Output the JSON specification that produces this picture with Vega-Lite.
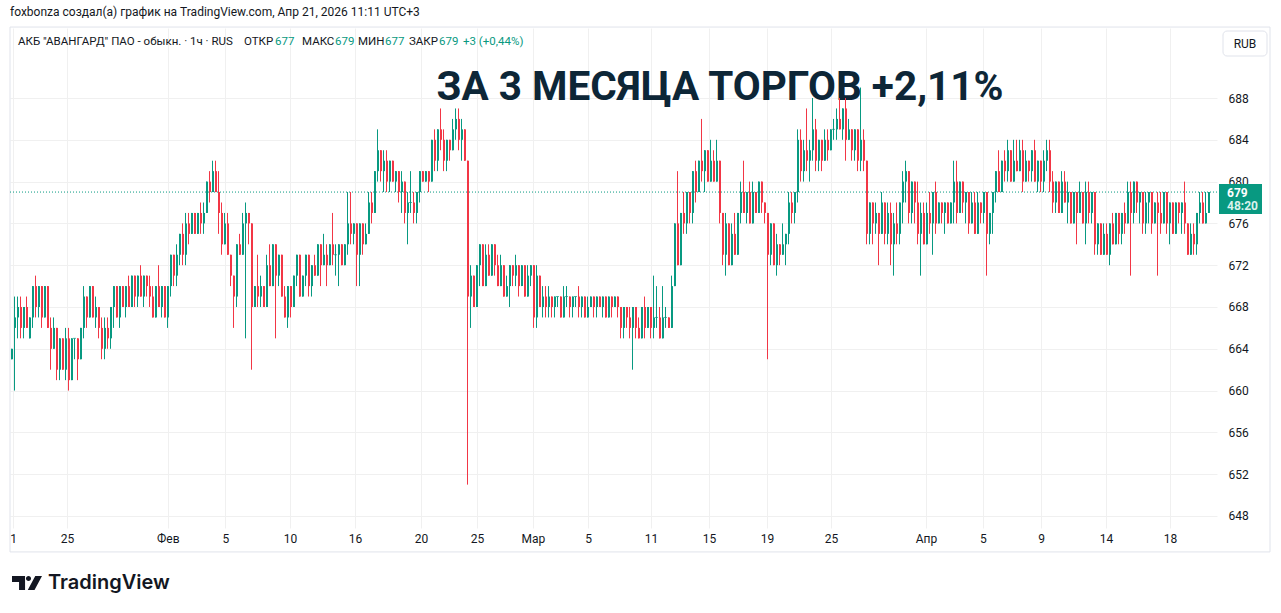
{
"$schema": "https://vega.github.io/schema/vega-lite/v6.json",
"width": 1207, "height": 500,
"autosize": {"type": "none"},
"padding": {"left": 10, "top": 28, "right": 64, "bottom": 85},
"background": "white",
"config": {"view": {"stroke": null}, "font": "Roboto", "text": {"font": "Roboto"}},
"datasets": {"candles": [
{"i":0,"o":663,"h":664,"l":663,"c":664},{"i":1,"o":666,"h":669,"l":660,"c":667},{"i":2,"o":667,"h":669,"l":665,"c":668},{"i":3,"o":668,"h":669,"l":665,"c":666},{"i":4,"o":666,"h":668,"l":665,"c":668},{"i":5,"o":668,"h":669,"l":666,"c":666},{"i":6,"o":665,"h":667,"l":665,"c":667},{"i":7,"o":667,"h":670,"l":666,"c":670},{"i":8,"o":670,"h":671,"l":667,"c":668},{"i":9,"o":668,"h":670,"l":667,"c":670},
{"i":10,"o":670,"h":670,"l":666,"c":667},{"i":11,"o":667,"h":670,"l":667,"c":670},{"i":12,"o":670,"h":670,"l":666,"c":666},{"i":13,"o":666,"h":667,"l":662,"c":664},{"i":14,"o":664,"h":667,"l":664,"c":666},{"i":15,"o":666,"h":666,"l":661,"c":662},{"i":16,"o":662,"h":665,"l":661,"c":665},{"i":17,"o":665,"h":665,"l":662,"c":662},{"i":18,"o":662,"h":666,"l":661,"c":665},{"i":19,"o":665,"h":666,"l":660,"c":661},
{"i":20,"o":661,"h":665,"l":661,"c":665},{"i":21,"o":665,"h":665,"l":663,"c":665},{"i":22,"o":665,"h":665,"l":661,"c":663},{"i":23,"o":663,"h":666,"l":663,"c":666},{"i":24,"o":666,"h":670,"l":665,"c":669},{"i":25,"o":669,"h":669,"l":666,"c":667},{"i":26,"o":667,"h":670,"l":667,"c":670},{"i":27,"o":670,"h":670,"l":667,"c":667},{"i":28,"o":667,"h":669,"l":666,"c":668},{"i":29,"o":668,"h":668,"l":665,"c":666},
{"i":30,"o":666,"h":667,"l":663,"c":664},{"i":31,"o":664,"h":667,"l":663,"c":666},{"i":32,"o":666,"h":667,"l":664,"c":665},{"i":33,"o":665,"h":668,"l":664,"c":668},{"i":34,"o":668,"h":670,"l":666,"c":670},{"i":35,"o":670,"h":670,"l":667,"c":667},{"i":36,"o":667,"h":670,"l":666,"c":670},{"i":37,"o":670,"h":670,"l":668,"c":668},{"i":38,"o":668,"h":670,"l":667,"c":670},{"i":39,"o":670,"h":671,"l":668,"c":668},
{"i":40,"o":668,"h":671,"l":668,"c":671},{"i":41,"o":671,"h":671,"l":668,"c":669},{"i":42,"o":669,"h":671,"l":668,"c":671},{"i":43,"o":671,"h":672,"l":669,"c":669},{"i":44,"o":669,"h":671,"l":668,"c":671},{"i":45,"o":671,"h":671,"l":669,"c":670},{"i":46,"o":670,"h":671,"l":668,"c":669},{"i":47,"o":669,"h":670,"l":667,"c":667},{"i":48,"o":667,"h":670,"l":667,"c":670},{"i":49,"o":670,"h":672,"l":668,"c":668},
{"i":50,"o":668,"h":670,"l":667,"c":670},{"i":51,"o":670,"h":670,"l":667,"c":667},{"i":52,"o":667,"h":670,"l":666,"c":670},{"i":53,"o":670,"h":673,"l":669,"c":673},{"i":54,"o":673,"h":673,"l":670,"c":671},{"i":55,"o":671,"h":674,"l":670,"c":673},{"i":56,"o":673,"h":675,"l":672,"c":675},{"i":57,"o":675,"h":676,"l":672,"c":673},{"i":58,"o":673,"h":677,"l":672,"c":676},{"i":59,"o":676,"h":677,"l":674,"c":675},
{"i":60,"o":675,"h":677,"l":675,"c":677},{"i":61,"o":677,"h":677,"l":675,"c":675},{"i":62,"o":675,"h":677,"l":675,"c":677},{"i":63,"o":677,"h":678,"l":675,"c":676},{"i":64,"o":676,"h":678,"l":675,"c":677},{"i":65,"o":677,"h":680,"l":677,"c":680},{"i":66,"o":680,"h":681,"l":678,"c":679},{"i":67,"o":679,"h":682,"l":679,"c":681},{"i":68,"o":681,"h":682,"l":679,"c":679},{"i":69,"o":679,"h":681,"l":675,"c":677},
{"i":70,"o":677,"h":678,"l":673,"c":674},{"i":71,"o":674,"h":677,"l":674,"c":676},{"i":72,"o":676,"h":677,"l":673,"c":673},{"i":73,"o":673,"h":673,"l":670,"c":671},{"i":74,"o":671,"h":671,"l":666,"c":669},{"i":75,"o":669,"h":674,"l":668,"c":674},{"i":76,"o":674,"h":675,"l":673,"c":673},{"i":77,"o":673,"h":677,"l":673,"c":676},{"i":78,"o":676,"h":678,"l":665,"c":677},{"i":79,"o":677,"h":677,"l":674,"c":676},
{"i":80,"o":676,"h":676,"l":662,"c":668},{"i":81,"o":668,"h":670,"l":668,"c":670},{"i":82,"o":670,"h":673,"l":668,"c":669},{"i":83,"o":669,"h":671,"l":668,"c":670},{"i":84,"o":670,"h":670,"l":668,"c":668},{"i":85,"o":668,"h":673,"l":668,"c":672},{"i":86,"o":672,"h":674,"l":670,"c":670},{"i":87,"o":670,"h":674,"l":670,"c":674},{"i":88,"o":674,"h":674,"l":665,"c":671},{"i":89,"o":671,"h":673,"l":670,"c":673},
{"i":90,"o":673,"h":673,"l":669,"c":669},{"i":91,"o":669,"h":670,"l":667,"c":667},{"i":92,"o":667,"h":670,"l":666,"c":670},{"i":93,"o":670,"h":670,"l":667,"c":668},{"i":94,"o":668,"h":671,"l":668,"c":671},{"i":95,"o":671,"h":673,"l":670,"c":673},{"i":96,"o":673,"h":673,"l":669,"c":669},{"i":97,"o":669,"h":671,"l":669,"c":671},{"i":98,"o":671,"h":673,"l":670,"c":673},{"i":99,"o":673,"h":673,"l":669,"c":670},
{"i":100,"o":670,"h":672,"l":669,"c":672},{"i":101,"o":672,"h":673,"l":671,"c":671},{"i":102,"o":671,"h":674,"l":671,"c":674},{"i":103,"o":674,"h":674,"l":670,"c":672},{"i":104,"o":672,"h":675,"l":672,"c":673},{"i":105,"o":673,"h":674,"l":670,"c":672},{"i":106,"o":672,"h":674,"l":672,"c":674},{"i":107,"o":674,"h":677,"l":672,"c":673},{"i":108,"o":673,"h":674,"l":671,"c":673},{"i":109,"o":673,"h":674,"l":670,"c":674},
{"i":110,"o":674,"h":674,"l":672,"c":672},{"i":111,"o":672,"h":674,"l":672,"c":674},{"i":112,"o":674,"h":679,"l":673,"c":676},{"i":113,"o":676,"h":679,"l":674,"c":675},{"i":114,"o":675,"h":676,"l":674,"c":676},{"i":115,"o":676,"h":676,"l":670,"c":673},{"i":116,"o":673,"h":676,"l":670,"c":676},{"i":117,"o":676,"h":676,"l":673,"c":674},{"i":118,"o":674,"h":676,"l":674,"c":675},{"i":119,"o":675,"h":679,"l":675,"c":678},
{"i":120,"o":678,"h":679,"l":676,"c":677},{"i":121,"o":677,"h":681,"l":677,"c":681},{"i":122,"o":681,"h":685,"l":680,"c":683},{"i":123,"o":683,"h":683,"l":680,"c":681},{"i":124,"o":681,"h":683,"l":679,"c":682},{"i":125,"o":682,"h":683,"l":679,"c":680},{"i":126,"o":680,"h":682,"l":679,"c":682},{"i":127,"o":682,"h":682,"l":680,"c":680},{"i":128,"o":680,"h":681,"l":679,"c":681},{"i":129,"o":681,"h":681,"l":678,"c":679},
{"i":130,"o":679,"h":681,"l":677,"c":680},{"i":131,"o":680,"h":680,"l":676,"c":677},{"i":132,"o":677,"h":679,"l":674,"c":678},{"i":133,"o":678,"h":681,"l":677,"c":678},{"i":134,"o":678,"h":679,"l":676,"c":677},{"i":135,"o":677,"h":679,"l":676,"c":679},{"i":136,"o":679,"h":681,"l":678,"c":681},{"i":137,"o":681,"h":681,"l":680,"c":680},{"i":138,"o":680,"h":681,"l":680,"c":681},{"i":139,"o":681,"h":681,"l":679,"c":680},
{"i":140,"o":680,"h":684,"l":680,"c":684},{"i":141,"o":684,"h":685,"l":681,"c":682},{"i":142,"o":682,"h":685,"l":681,"c":685},{"i":143,"o":685,"h":687,"l":683,"c":684},{"i":144,"o":684,"h":685,"l":681,"c":682},{"i":145,"o":682,"h":684,"l":681,"c":684},{"i":146,"o":684,"h":684,"l":682,"c":683},{"i":147,"o":683,"h":686,"l":683,"c":685},{"i":148,"o":685,"h":687,"l":684,"c":686},{"i":149,"o":686,"h":687,"l":683,"c":684},
{"i":150,"o":684,"h":686,"l":682,"c":685},{"i":151,"o":685,"h":685,"l":682,"c":682},{"i":152,"o":682,"h":682,"l":651,"c":669},{"i":153,"o":669,"h":672,"l":666,"c":671},{"i":154,"o":671,"h":671,"l":668,"c":668},{"i":155,"o":668,"h":672,"l":668,"c":672},{"i":156,"o":672,"h":674,"l":670,"c":674},{"i":157,"o":674,"h":674,"l":670,"c":670},{"i":158,"o":670,"h":674,"l":670,"c":673},{"i":159,"o":673,"h":674,"l":671,"c":671},
{"i":160,"o":671,"h":674,"l":671,"c":674},{"i":161,"o":674,"h":674,"l":671,"c":672},{"i":162,"o":672,"h":673,"l":670,"c":670},{"i":163,"o":670,"h":673,"l":670,"c":672},{"i":164,"o":672,"h":672,"l":669,"c":669},{"i":165,"o":669,"h":671,"l":669,"c":670},{"i":166,"o":670,"h":672,"l":668,"c":672},{"i":167,"o":672,"h":672,"l":670,"c":671},{"i":168,"o":671,"h":673,"l":670,"c":672},{"i":169,"o":672,"h":672,"l":669,"c":670},
{"i":170,"o":670,"h":672,"l":670,"c":672},{"i":171,"o":672,"h":672,"l":669,"c":669},{"i":172,"o":669,"h":672,"l":669,"c":671},{"i":173,"o":671,"h":672,"l":670,"c":672},{"i":174,"o":672,"h":672,"l":666,"c":667},{"i":175,"o":667,"h":672,"l":666,"c":671},{"i":176,"o":671,"h":671,"l":668,"c":668},{"i":177,"o":668,"h":670,"l":667,"c":669},{"i":178,"o":669,"h":670,"l":667,"c":668},{"i":179,"o":668,"h":670,"l":667,"c":669},
{"i":180,"o":669,"h":669,"l":667,"c":668},{"i":181,"o":668,"h":669,"l":667,"c":669},{"i":182,"o":669,"h":669,"l":668,"c":669},{"i":183,"o":669,"h":669,"l":667,"c":667},{"i":184,"o":667,"h":670,"l":667,"c":669},{"i":185,"o":669,"h":670,"l":668,"c":669},{"i":186,"o":669,"h":669,"l":667,"c":668},{"i":187,"o":668,"h":669,"l":667,"c":669},{"i":188,"o":669,"h":669,"l":668,"c":669},{"i":189,"o":669,"h":670,"l":667,"c":668},
{"i":190,"o":668,"h":669,"l":667,"c":669},{"i":191,"o":669,"h":669,"l":667,"c":667},{"i":192,"o":667,"h":669,"l":667,"c":668},{"i":193,"o":668,"h":669,"l":668,"c":669},{"i":194,"o":669,"h":669,"l":667,"c":668},{"i":195,"o":668,"h":669,"l":667,"c":669},{"i":196,"o":669,"h":669,"l":668,"c":668},{"i":197,"o":668,"h":669,"l":667,"c":669},{"i":198,"o":669,"h":669,"l":667,"c":667},{"i":199,"o":667,"h":669,"l":667,"c":669},
{"i":200,"o":669,"h":669,"l":667,"c":668},{"i":201,"o":668,"h":669,"l":668,"c":669},{"i":202,"o":669,"h":669,"l":667,"c":668},{"i":203,"o":668,"h":668,"l":665,"c":666},{"i":204,"o":666,"h":668,"l":665,"c":668},{"i":205,"o":668,"h":668,"l":666,"c":667},{"i":206,"o":667,"h":668,"l":665,"c":666},{"i":207,"o":666,"h":668,"l":662,"c":668},{"i":208,"o":668,"h":668,"l":665,"c":666},{"i":209,"o":666,"h":667,"l":665,"c":665},
{"i":210,"o":665,"h":668,"l":665,"c":668},{"i":211,"o":668,"h":669,"l":665,"c":666},{"i":212,"o":666,"h":668,"l":666,"c":668},{"i":213,"o":668,"h":668,"l":665,"c":666},{"i":214,"o":666,"h":671,"l":665,"c":667},{"i":215,"o":667,"h":670,"l":666,"c":667},{"i":216,"o":667,"h":668,"l":665,"c":665},{"i":217,"o":665,"h":670,"l":665,"c":667},{"i":218,"o":667,"h":668,"l":666,"c":667},{"i":219,"o":667,"h":667,"l":666,"c":666},
{"i":220,"o":666,"h":671,"l":666,"c":670},{"i":221,"o":670,"h":676,"l":670,"c":676},{"i":222,"o":676,"h":681,"l":672,"c":672},{"i":223,"o":672,"h":677,"l":672,"c":677},{"i":224,"o":677,"h":679,"l":675,"c":676},{"i":225,"o":676,"h":679,"l":675,"c":679},{"i":226,"o":679,"h":679,"l":676,"c":677},{"i":227,"o":677,"h":681,"l":676,"c":681},{"i":228,"o":681,"h":682,"l":678,"c":679},{"i":229,"o":679,"h":682,"l":679,"c":682},
{"i":230,"o":682,"h":686,"l":680,"c":681},{"i":231,"o":681,"h":683,"l":679,"c":683},{"i":232,"o":683,"h":683,"l":680,"c":680},{"i":233,"o":680,"h":684,"l":680,"c":682},{"i":234,"o":682,"h":683,"l":680,"c":680},{"i":235,"o":680,"h":684,"l":680,"c":682},{"i":236,"o":682,"h":682,"l":676,"c":677},{"i":237,"o":677,"h":677,"l":672,"c":673},{"i":238,"o":673,"h":677,"l":671,"c":676},{"i":239,"o":676,"h":676,"l":672,"c":672},
{"i":240,"o":672,"h":676,"l":672,"c":675},{"i":241,"o":675,"h":677,"l":673,"c":673},{"i":242,"o":673,"h":677,"l":673,"c":677},{"i":243,"o":677,"h":680,"l":676,"c":679},{"i":244,"o":679,"h":682,"l":677,"c":677},{"i":245,"o":677,"h":679,"l":676,"c":679},{"i":246,"o":679,"h":680,"l":676,"c":676},{"i":247,"o":676,"h":680,"l":676,"c":679},{"i":248,"o":679,"h":679,"l":677,"c":677},{"i":249,"o":677,"h":680,"l":677,"c":680},
{"i":250,"o":680,"h":680,"l":677,"c":678},{"i":251,"o":678,"h":678,"l":676,"c":677},{"i":252,"o":677,"h":677,"l":663,"c":673},{"i":253,"o":673,"h":676,"l":672,"c":676},{"i":254,"o":676,"h":676,"l":672,"c":672},{"i":255,"o":672,"h":675,"l":671,"c":674},{"i":256,"o":674,"h":674,"l":672,"c":673},{"i":257,"o":673,"h":676,"l":673,"c":674},{"i":258,"o":674,"h":675,"l":672,"c":675},{"i":259,"o":675,"h":679,"l":674,"c":678},
{"i":260,"o":678,"h":679,"l":676,"c":677},{"i":261,"o":677,"h":679,"l":676,"c":679},{"i":262,"o":679,"h":685,"l":678,"c":684},{"i":263,"o":684,"h":685,"l":680,"c":681},{"i":264,"o":681,"h":684,"l":680,"c":683},{"i":265,"o":683,"h":687,"l":681,"c":682},{"i":266,"o":682,"h":684,"l":680,"c":683},{"i":267,"o":683,"h":688,"l":682,"c":685},{"i":268,"o":685,"h":686,"l":681,"c":682},{"i":269,"o":682,"h":684,"l":681,"c":684},
{"i":270,"o":684,"h":684,"l":681,"c":682},{"i":271,"o":682,"h":685,"l":682,"c":684},{"i":272,"o":684,"h":685,"l":682,"c":683},{"i":273,"o":683,"h":685,"l":683,"c":685},{"i":274,"o":685,"h":686,"l":684,"c":685},{"i":275,"o":685,"h":687,"l":684,"c":686},{"i":276,"o":686,"h":688,"l":685,"c":685},{"i":277,"o":685,"h":687,"l":684,"c":687},{"i":278,"o":687,"h":688,"l":682,"c":684},{"i":279,"o":684,"h":686,"l":684,"c":685},
{"i":280,"o":685,"h":685,"l":682,"c":683},{"i":281,"o":683,"h":685,"l":682,"c":685},{"i":282,"o":685,"h":685,"l":681,"c":682},{"i":283,"o":682,"h":689,"l":681,"c":684},{"i":284,"o":684,"h":685,"l":681,"c":682},{"i":285,"o":682,"h":682,"l":674,"c":675},{"i":286,"o":675,"h":678,"l":674,"c":678},{"i":287,"o":678,"h":678,"l":674,"c":676},{"i":288,"o":676,"h":678,"l":675,"c":677},{"i":289,"o":677,"h":677,"l":672,"c":675},
{"i":290,"o":675,"h":679,"l":675,"c":678},{"i":291,"o":678,"h":678,"l":674,"c":675},{"i":292,"o":675,"h":678,"l":674,"c":677},{"i":293,"o":677,"h":678,"l":672,"c":674},{"i":294,"o":674,"h":677,"l":671,"c":676},{"i":295,"o":676,"h":678,"l":674,"c":675},{"i":296,"o":675,"h":678,"l":674,"c":678},{"i":297,"o":678,"h":681,"l":676,"c":680},{"i":298,"o":680,"h":682,"l":678,"c":681},{"i":299,"o":681,"h":681,"l":676,"c":677},
{"i":300,"o":677,"h":680,"l":676,"c":680},{"i":301,"o":680,"h":680,"l":676,"c":678},{"i":302,"o":678,"h":680,"l":674,"c":675},{"i":303,"o":675,"h":678,"l":671,"c":677},{"i":304,"o":677,"h":678,"l":674,"c":674},{"i":305,"o":674,"h":678,"l":674,"c":677},{"i":306,"o":677,"h":679,"l":675,"c":676},{"i":307,"o":676,"h":679,"l":673,"c":679},{"i":308,"o":679,"h":680,"l":675,"c":676},{"i":309,"o":676,"h":678,"l":676,"c":678},
{"i":310,"o":678,"h":678,"l":676,"c":677},{"i":311,"o":677,"h":678,"l":675,"c":678},{"i":312,"o":678,"h":678,"l":676,"c":676},{"i":313,"o":676,"h":678,"l":676,"c":678},{"i":314,"o":678,"h":682,"l":676,"c":680},{"i":315,"o":680,"h":682,"l":676,"c":677},{"i":316,"o":677,"h":680,"l":677,"c":680},{"i":317,"o":680,"h":680,"l":677,"c":678},{"i":318,"o":678,"h":679,"l":676,"c":679},{"i":319,"o":679,"h":679,"l":675,"c":676},
{"i":320,"o":676,"h":679,"l":676,"c":678},{"i":321,"o":678,"h":679,"l":675,"c":675},{"i":322,"o":675,"h":679,"l":675,"c":678},{"i":323,"o":678,"h":678,"l":676,"c":677},{"i":324,"o":677,"h":679,"l":676,"c":679},{"i":325,"o":679,"h":679,"l":671,"c":675},{"i":326,"o":675,"h":677,"l":674,"c":677},{"i":327,"o":677,"h":679,"l":675,"c":679},{"i":328,"o":679,"h":681,"l":678,"c":681},{"i":329,"o":681,"h":683,"l":679,"c":679},
{"i":330,"o":679,"h":682,"l":679,"c":682},{"i":331,"o":682,"h":683,"l":680,"c":681},{"i":332,"o":681,"h":684,"l":680,"c":683},{"i":333,"o":683,"h":683,"l":680,"c":680},{"i":334,"o":680,"h":684,"l":680,"c":682},{"i":335,"o":682,"h":684,"l":681,"c":681},{"i":336,"o":681,"h":684,"l":681,"c":683},{"i":337,"o":683,"h":684,"l":679,"c":680},{"i":338,"o":680,"h":683,"l":680,"c":682},{"i":339,"o":682,"h":682,"l":680,"c":681},
{"i":340,"o":681,"h":683,"l":680,"c":683},{"i":341,"o":683,"h":684,"l":680,"c":680},{"i":342,"o":680,"h":682,"l":679,"c":682},{"i":343,"o":682,"h":682,"l":679,"c":680},{"i":344,"o":680,"h":683,"l":679,"c":682},{"i":345,"o":682,"h":684,"l":681,"c":683},{"i":346,"o":683,"h":684,"l":679,"c":680},{"i":347,"o":680,"h":681,"l":677,"c":678},{"i":348,"o":678,"h":680,"l":677,"c":680},{"i":349,"o":680,"h":680,"l":677,"c":677},
{"i":350,"o":677,"h":681,"l":677,"c":680},{"i":351,"o":680,"h":681,"l":678,"c":678},{"i":352,"o":678,"h":680,"l":676,"c":679},{"i":353,"o":679,"h":679,"l":676,"c":676},{"i":354,"o":676,"h":679,"l":676,"c":679},{"i":355,"o":679,"h":679,"l":674,"c":677},{"i":356,"o":677,"h":680,"l":677,"c":679},{"i":357,"o":679,"h":679,"l":676,"c":676},{"i":358,"o":676,"h":680,"l":674,"c":679},{"i":359,"o":679,"h":680,"l":676,"c":677},
{"i":360,"o":677,"h":679,"l":676,"c":679},{"i":361,"o":679,"h":679,"l":673,"c":674},{"i":362,"o":674,"h":676,"l":673,"c":676},{"i":363,"o":676,"h":676,"l":673,"c":673},{"i":364,"o":673,"h":676,"l":673,"c":675},{"i":365,"o":675,"h":676,"l":673,"c":673},{"i":366,"o":673,"h":676,"l":672,"c":676},{"i":367,"o":676,"h":677,"l":674,"c":674},{"i":368,"o":674,"h":677,"l":674,"c":677},{"i":369,"o":677,"h":677,"l":674,"c":675},
{"i":370,"o":675,"h":677,"l":674,"c":677},{"i":371,"o":677,"h":678,"l":675,"c":676},{"i":372,"o":676,"h":680,"l":676,"c":679},{"i":373,"o":679,"h":680,"l":671,"c":677},{"i":374,"o":677,"h":680,"l":676,"c":680},{"i":375,"o":680,"h":680,"l":677,"c":678},{"i":376,"o":678,"h":679,"l":676,"c":679},{"i":377,"o":679,"h":679,"l":675,"c":676},{"i":378,"o":676,"h":679,"l":675,"c":678},{"i":379,"o":678,"h":679,"l":676,"c":679},
{"i":380,"o":679,"h":679,"l":675,"c":676},{"i":381,"o":676,"h":678,"l":676,"c":678},{"i":382,"o":678,"h":679,"l":671,"c":677},{"i":383,"o":677,"h":679,"l":675,"c":676},{"i":384,"o":676,"h":679,"l":676,"c":679},{"i":385,"o":679,"h":679,"l":675,"c":676},{"i":386,"o":676,"h":678,"l":674,"c":678},{"i":387,"o":678,"h":678,"l":675,"c":675},{"i":388,"o":675,"h":678,"l":675,"c":678},{"i":389,"o":678,"h":678,"l":676,"c":677},
{"i":390,"o":677,"h":678,"l":675,"c":678},{"i":391,"o":678,"h":680,"l":675,"c":676},{"i":392,"o":676,"h":676,"l":673,"c":673},{"i":393,"o":673,"h":676,"l":673,"c":675},{"i":394,"o":675,"h":676,"l":673,"c":674},{"i":395,"o":674,"h":677,"l":673,"c":677},{"i":396,"o":677,"h":679,"l":676,"c":678},{"i":397,"o":678,"h":679,"l":676,"c":676},{"i":398,"o":676,"h":679,"l":676,"c":677},{"i":399,"o":677,"h":679,"l":677,"c":679}
]},
"layer": [
{"data": {"name": "candles"}, "transform": [{"filter": "datum.i < 0"}], "mark": {"type": "point", "opacity": 0},
 "encoding": {
  "x": {"field": "i", "type": "quantitative", "scale": {"domain": [-0.5, 401.83], "nice": false, "zero": false, "padding": 0},
   "axis": {"values": [0.5, 18.5, 52.1, 71.3, 92.8, 114.5, 136.5, 155.2, 173.8, 192.2, 213.2, 232.5, 251.8, 273.2, 304.8, 323.8, 343.2, 364.8, 386.2],
    "labelExpr": "['1','25','Фев','5','10','16','20','25','Мар','5','11','15','19','25','Апр','5','9','14','18'][indexof([0.5, 18.5, 52.1, 71.3, 92.8, 114.5, 136.5, 155.2, 173.8, 192.2, 213.2, 232.5, 251.8, 273.2, 304.8, 323.8, 343.2, 364.8, 386.2], datum.value)]",
    "grid": true, "gridColor": "#f0f0f0", "domain": false, "ticks": false, "labelPadding": 10, "labelBaseline": "middle",
    "labelFontSize": 12, "labelColor": "#131722", "labelFont": "Roboto", "labelFlush": false, "labelOverlap": false, "title": null}},
  "y": {"field": "c", "type": "quantitative", "scale": {"domain": [646.85, 694.7], "nice": false, "zero": false, "padding": 0},
   "axis": {"orient": "right", "values": [648, 652, 656, 660, 664, 668, 672, 676, 680, 684, 688], "grid": true, "gridColor": "#f0f0f0",
    "domain": false, "ticks": false, "labelPadding": 11, "labelFontSize": 12, "labelColor": "#131722", "labelFont": "Roboto", "title": null}}}},
{"data": {"values": [{}]}, "mark": {"type": "rect", "filled": false, "stroke": "#e0e3eb", "strokeWidth": 1},
 "encoding": {
  "x": {"datum": -0.5, "type": "quantitative"},
  "x2": {"datum": 419.5},
  "y": {"datum": 694.79, "type": "quantitative"},
  "y2": {"datum": 644.56}}},
{"data": {"values": [{}]}, "mark": {"type": "text", "text": "ЗА 3 МЕСЯЦА ТОРГОВ +2,11%", "font": "Roboto", "fontSize": 40.5, "fontWeight": "bold", "color": "#0d2637", "align": "center", "baseline": "alphabetic"},
 "encoding": {"x": {"datum": 236.17, "type": "quantitative"}, "y": {"datum": 687.81, "type": "quantitative"}}},
{"data": {"values": [{}]}, "mark": {"type": "rule", "color": "#089981", "strokeDash": [1, 2], "strokeWidth": 1},
 "encoding": {"y": {"datum": 679, "type": "quantitative"}}},
{"data": {"name": "candles"}, "mark": {"type": "rule", "strokeWidth": 1},
 "encoding": {
  "x": {"field": "i", "type": "quantitative"},
  "y": {"field": "l", "type": "quantitative"}, "y2": {"field": "h"},
  "color": {"condition": {"test": "datum.c >= datum.o", "value": "#089981"}, "value": "#F23645"}}},
{"data": {"name": "candles"}, "mark": {"type": "bar", "width": 2, "xOffset": 0.5},
 "encoding": {
  "x": {"field": "i", "type": "quantitative"},
  "y": {"field": "o", "type": "quantitative"}, "y2": {"field": "c"},
  "color": {"condition": {"test": "datum.c >= datum.o", "value": "#089981"}, "value": "#F23645"}}},
{"data": {"name": "candles"}, "transform": [{"filter": "datum.o == datum.c"}], "mark": {"type": "tick", "orient": "horizontal", "thickness": 1, "size": 3},
 "encoding": {
  "x": {"field": "i", "type": "quantitative"},
  "y": {"field": "c", "type": "quantitative"},
  "color": {"value": "#089981"}}},
{"data": {"values": [{}]}, "mark": {"type": "text", "text": "foxbonza создал(а) график на TradingView.com, Апр 21, 2026 11:11 UTC+3", "fontSize": 12, "color": "#131722", "align": "left", "baseline": "middle"},
 "encoding": {"x": {"datum": -0.5, "type": "quantitative"}, "y": {"datum": 696.23, "type": "quantitative"}}},
{"data": {"values": [{}]}, "mark": {"type": "text", "text": "АКБ \"АВАНГАРД\" ПАО - обыкн. · 1ч · RUS", "fontSize": 11.5, "color": "#131722", "align": "left", "baseline": "middle"},
 "encoding": {"x": {"datum": 2.17, "type": "quantitative"}, "y": {"datum": 693.36, "type": "quantitative"}}},
{"data": {"values": [{}]}, "mark": {"type": "text", "text": "ОТКР", "fontSize": 11.5, "color": "#131722", "align": "left", "baseline": "middle"},
 "encoding": {"x": {"datum": 77.5, "type": "quantitative"}, "y": {"datum": 693.36, "type": "quantitative"}}},
{"data": {"values": [{}]}, "mark": {"type": "text", "text": "677", "fontSize": 11.5, "color": "#089981", "align": "left", "baseline": "middle"},
 "encoding": {"x": {"datum": 87.83, "type": "quantitative"}, "y": {"datum": 693.36, "type": "quantitative"}}},
{"data": {"values": [{}]}, "mark": {"type": "text", "text": "МАКС", "fontSize": 11.5, "color": "#131722", "align": "left", "baseline": "middle"},
 "encoding": {"x": {"datum": 96.83, "type": "quantitative"}, "y": {"datum": 693.36, "type": "quantitative"}}},
{"data": {"values": [{}]}, "mark": {"type": "text", "text": "679", "fontSize": 11.5, "color": "#089981", "align": "left", "baseline": "middle"},
 "encoding": {"x": {"datum": 107.83, "type": "quantitative"}, "y": {"datum": 693.36, "type": "quantitative"}}},
{"data": {"values": [{}]}, "mark": {"type": "text", "text": "МИН", "fontSize": 11.5, "color": "#131722", "align": "left", "baseline": "middle"},
 "encoding": {"x": {"datum": 115.5, "type": "quantitative"}, "y": {"datum": 693.36, "type": "quantitative"}}},
{"data": {"values": [{}]}, "mark": {"type": "text", "text": "677", "fontSize": 11.5, "color": "#089981", "align": "left", "baseline": "middle"},
 "encoding": {"x": {"datum": 124.5, "type": "quantitative"}, "y": {"datum": 693.36, "type": "quantitative"}}},
{"data": {"values": [{}]}, "mark": {"type": "text", "text": "ЗАКР", "fontSize": 11.5, "color": "#131722", "align": "left", "baseline": "middle"},
 "encoding": {"x": {"datum": 132.5, "type": "quantitative"}, "y": {"datum": 693.36, "type": "quantitative"}}},
{"data": {"values": [{}]}, "mark": {"type": "text", "text": "679", "fontSize": 11.5, "color": "#089981", "align": "left", "baseline": "middle"},
 "encoding": {"x": {"datum": 142.5, "type": "quantitative"}, "y": {"datum": 693.36, "type": "quantitative"}}},
{"data": {"values": [{}]}, "mark": {"type": "text", "text": "+3 (+0,44%)", "fontSize": 11.5, "color": "#089981", "align": "left", "baseline": "middle"},
 "encoding": {"x": {"datum": 150.5, "type": "quantitative"}, "y": {"datum": 693.36, "type": "quantitative"}}},
{"data": {"values": [{}]}, "mark": {"type": "rect", "fill": "white", "stroke": "#e0e3eb", "strokeWidth": 1, "cornerRadius": 4},
 "encoding": {"x": {"datum": 403.83, "type": "quantitative"}, "x2": {"datum": 418.5}, "y": {"datum": 694.41, "type": "quantitative"}, "y2": {"datum": 692.02}}},
{"data": {"values": [{}]}, "mark": {"type": "text", "text": "RUB", "fontSize": 12, "color": "#131722", "align": "center", "baseline": "middle"},
 "encoding": {"x": {"datum": 411.17, "type": "quantitative"}, "y": {"datum": 693.17, "type": "quantitative"}}},
{"data": {"values": [{}]}, "mark": {"type": "rect", "fill": "#089981"},
 "encoding": {"x": {"datum": 402.5, "type": "quantitative"}, "x2": {"datum": 416.83}, "y": {"datum": 679.77, "type": "quantitative"}, "y2": {"datum": 676.9}}},
{"data": {"values": [{}]}, "mark": {"type": "text", "text": "679", "fontSize": 12, "fontWeight": "bold", "color": "white", "align": "left", "baseline": "middle"},
 "encoding": {"x": {"datum": 405.17, "type": "quantitative"}, "y": {"datum": 678.91, "type": "quantitative"}}},
{"data": {"values": [{}]}, "mark": {"type": "text", "text": "48:20", "fontSize": 12, "fontWeight": "bold", "color": "#d9f2ec", "align": "left", "baseline": "middle"},
 "encoding": {"x": {"datum": 405.17, "type": "quantitative"}, "y": {"datum": 677.67, "type": "quantitative"}}},
{"data": {"values": [{}]}, "mark": {"type": "point", "filled": true, "color": "#131722", "opacity": 1, "strokeWidth": 0, "size": 900,
  "shape": "M-1,-0.47 H-0.13 V0.47 H-0.53 V-0.07 H-1 Z M-0.07,-0.3 A0.17,0.17 0 1,0 0.27,-0.3 A0.17,0.17 0 1,0 -0.07,-0.3 Z M0.05,0.47 L0.55,-0.47 L1,-0.47 L0.5,0.47 Z"},
 "encoding": {"x": {"datum": 5.17, "type": "quantitative"}, "y": {"datum": 641.59, "type": "quantitative"}}},
{"data": {"values": [{}]}, "mark": {"type": "text", "text": "TradingView", "font": "Inter", "fontSize": 20, "fontWeight": 600, "color": "#131722", "align": "left", "baseline": "middle"},
 "encoding": {"x": {"datum": 12.17, "type": "quantitative"}, "y": {"datum": 641.59, "type": "quantitative"}}}
]
}
